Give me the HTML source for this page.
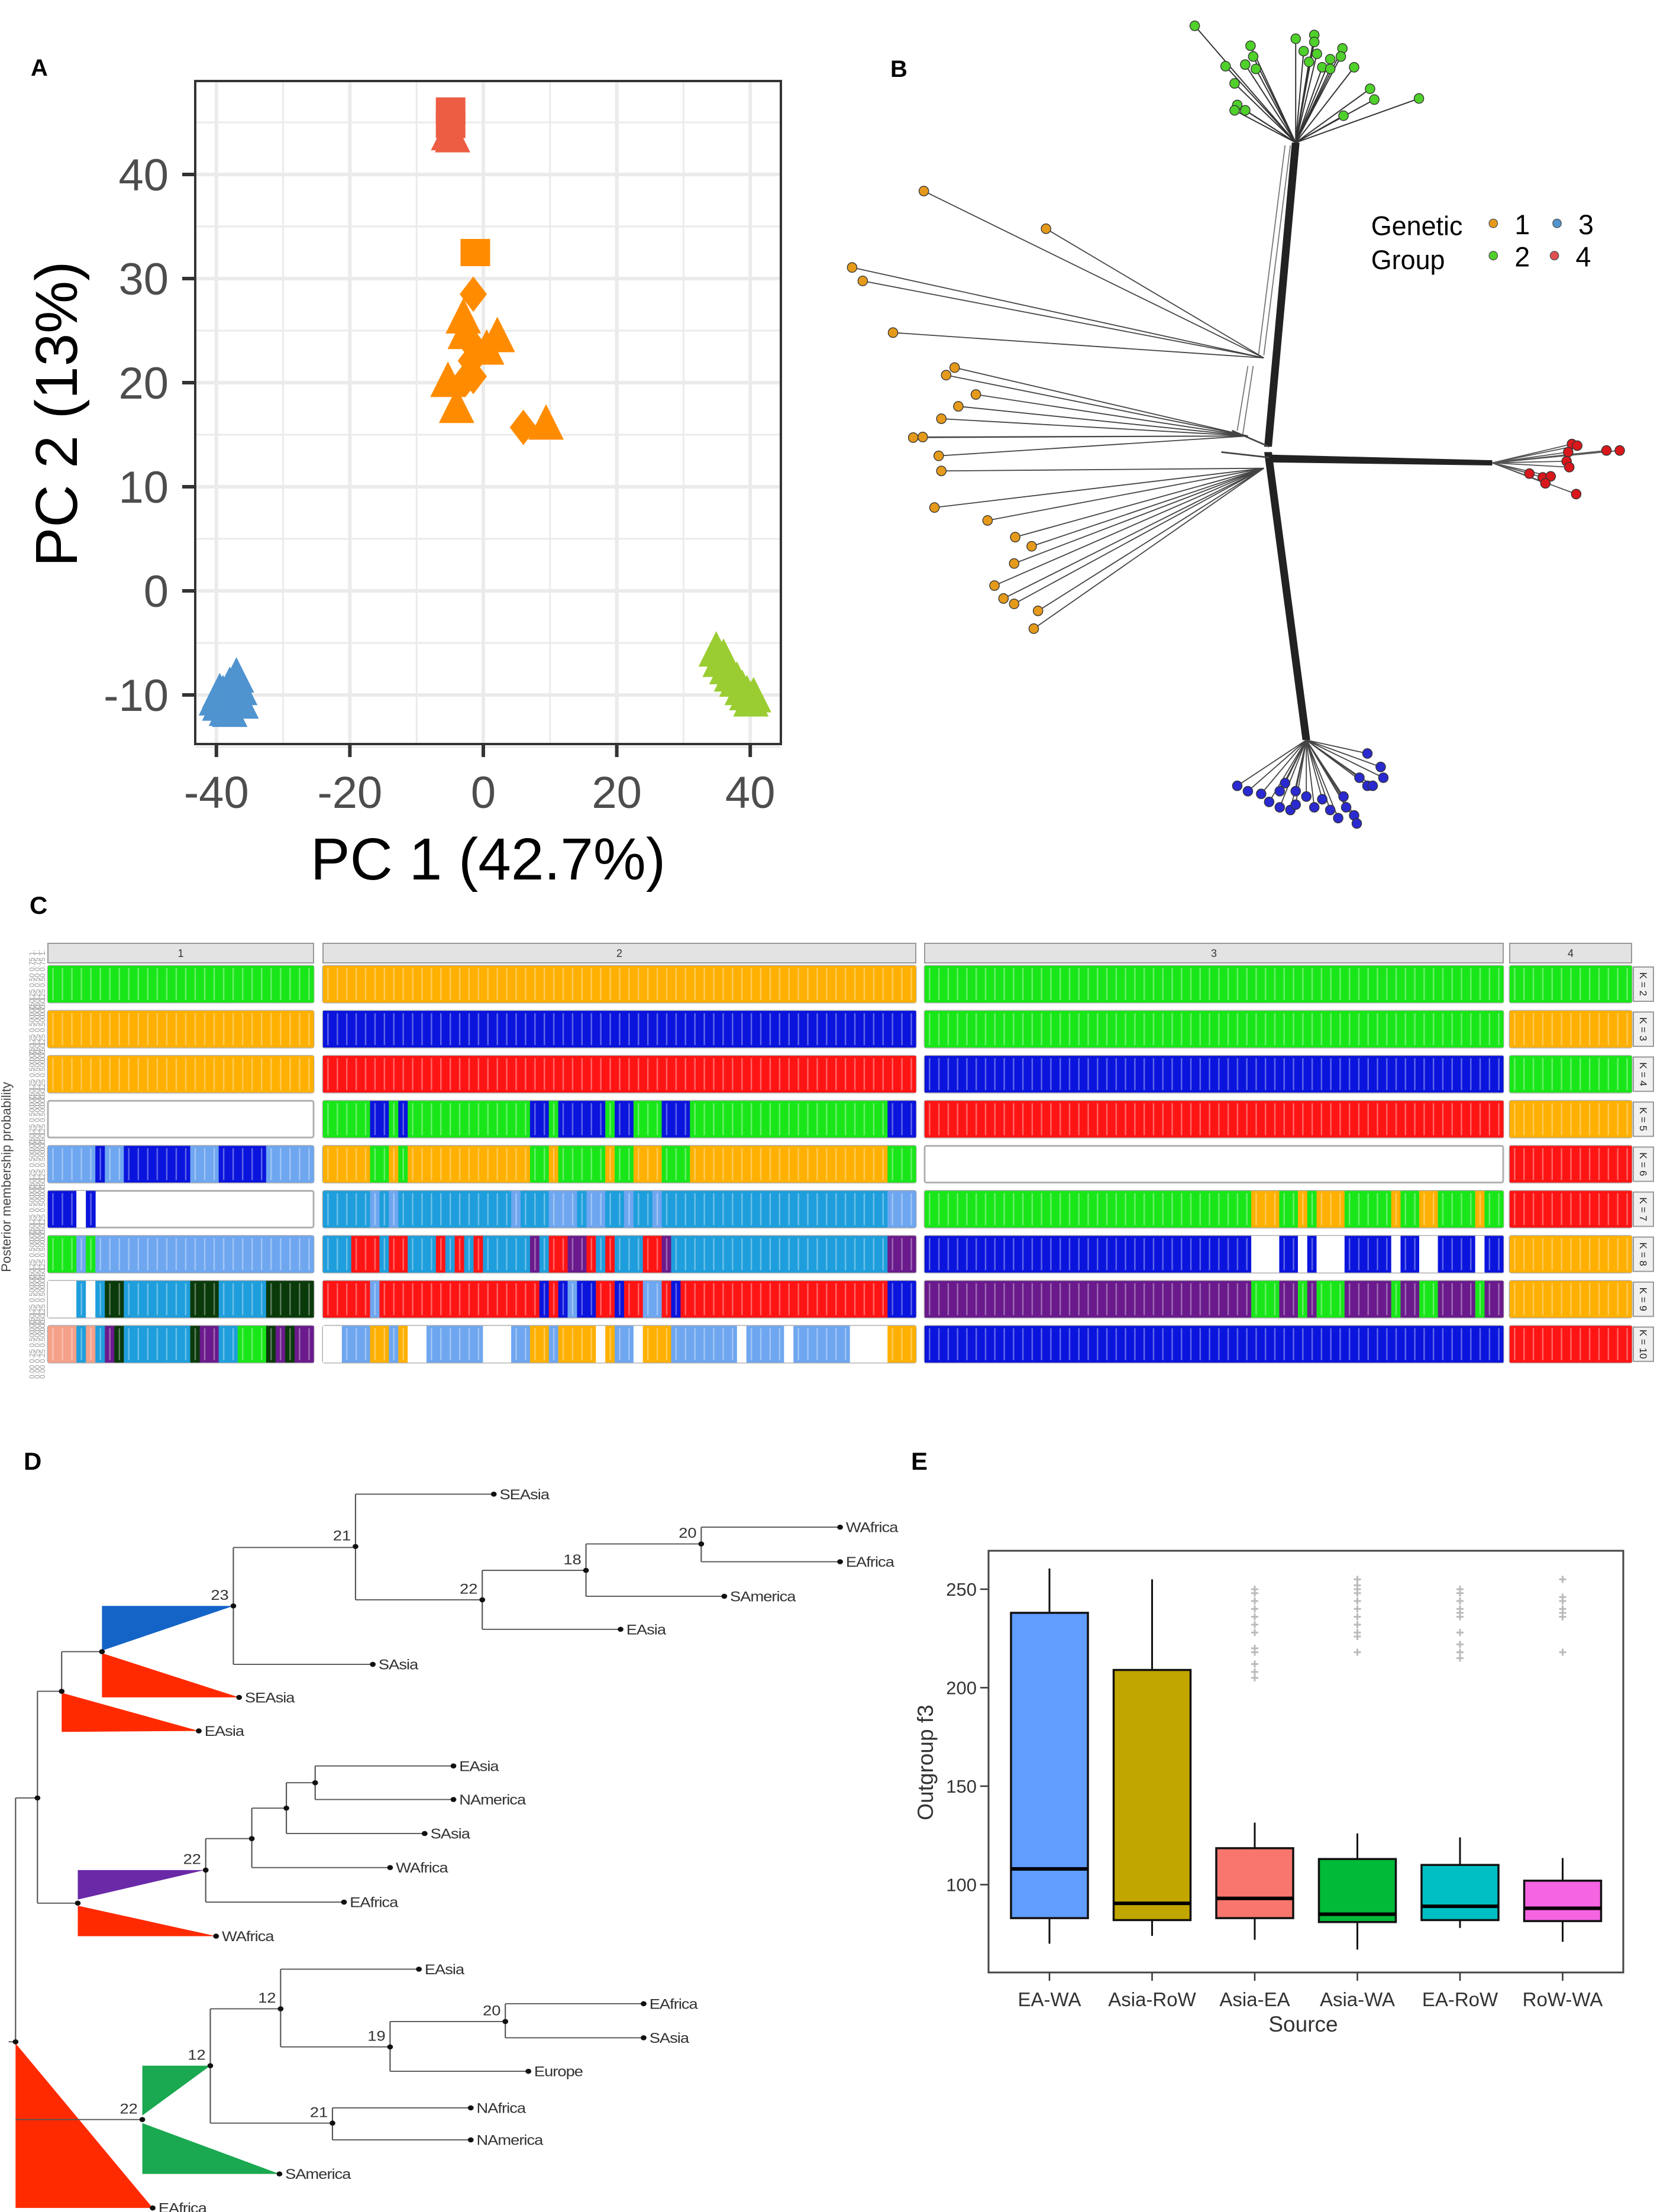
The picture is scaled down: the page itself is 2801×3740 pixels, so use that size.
<!DOCTYPE html>
<html><head><meta charset="utf-8"><style>
html,body{margin:0;padding:0;background:#fff;}
svg{display:block;font-family:"Liberation Sans",Arial,sans-serif;}
</style></head><body>
<svg id="fig" xmlns="http://www.w3.org/2000/svg" width="2801" height="3740" viewBox="0 0 2801 3740">
<rect width="2801" height="3740" fill="#fff"/>
<text x="52" y="128" font-size="40" font-weight="bold">A</text>
<text x="1505" y="130" font-size="40" font-weight="bold">B</text>
<text x="50" y="1545" font-size="42" font-weight="bold">C</text>
<text x="40" y="2485" font-size="42" font-weight="bold">D</text>
<text x="1540" y="2485" font-size="42" font-weight="bold">E</text>
<g id="pa"></g>
<g id="pb" transform="translate(1400,0) scale(0.898,0.910)"></g>
<g id="pc"></g>
<g id="pd" transform="translate(0,2400) scale(0.974,0.859)"></g>
<g id="pe"></g>
</svg>
<script>
// ---------- Panel A data ----------
const pcaRedX=[-4.9,-4.9,-4.6,-5.2];
const pcaRedY=[46.1,44.8,43.6,43.8];
const pcaRedShape=["s","s","t","t"];
const pcaOrangeX=[-1.2,-1.5,-3.0,2.1,-2.7,-1.5,-1.8,-1.5,-2.7,-5.3,-4.0,6.0,9.4,0.5];
const pcaOrangeY=[32.5,28.5,26.2,24.4,24.7,23.5,22.1,20.6,20.3,20.1,17.6,15.7,16.0,23.2];
const pcaOrangeShape=["s","d","t","t","t","d","d","d","d","t","t","d","t","t"];
const pcaBlueX=[-37.0,-38.0,-39.0,-39.5,-38.5,-36.5,-37.5,-39.5,-36.3,-38.0,-40.0];
const pcaBlueY=[-8.3,-9.2,-10.0,-11.0,-11.5,-9.5,-10.5,-9.8,-10.8,-11.6,-10.5];
const pcaGreenX=[34.9,35.5,36.5,37.2,38.0,38.8,39.5,40.1,40.5,36.0];
const pcaGreenY=[-5.8,-6.8,-7.5,-8.2,-8.7,-9.5,-10.0,-10.6,-10.2,-6.5];
const pcaXTicks=[-40,-20,0,20,40];
const pcaYTicks=[-10,0,10,20,30,40];
const NS="http://www.w3.org/2000/svg";
function mk(parent,tag,attrs,text){const e=document.createElementNS(NS,tag);for(const k in attrs)e.setAttribute(k,attrs[k]);if(text!==undefined)e.textContent=text;parent.appendChild(e);return e;}
(function(){
 const g=document.getElementById('pa');
 const X=v=>817+v*11.28, Y=v=>295+(40-v)*17.6;
 const L=330,R=1320,T=137,B=1258;
 for(let v=-30;v<=30;v+=20){const l=mk(g,'line',{x1:X(v),x2:X(v),y1:T,y2:B,stroke:'#ebebeb','stroke-width':3});}
 for(let v=-15;v<=45;v+=10){const l=mk(g,'line',{x1:L,x2:R,y1:Y(v),y2:Y(v),stroke:'#ebebeb','stroke-width':3});}
 pcaXTicks.forEach(v=>{const l=mk(g,'line',{x1:X(v),x2:X(v),y1:T,y2:B,stroke:'#ebebeb','stroke-width':6});
  const t=mk(g,'line',{x1:X(v),x2:X(v),y1:B,y2:B+22,stroke:'#333','stroke-width':6});
  const tx=mk(g,'text',{x:X(v),y:1366,'font-size':76,fill:'#4d4d4d','text-anchor':'middle'},String(v));});
 pcaYTicks.forEach(v=>{const l=mk(g,'line',{x1:L,x2:R,y1:Y(v),y2:Y(v),stroke:'#ebebeb','stroke-width':6});
  const t=mk(g,'line',{x1:L-22,x2:L,y1:Y(v),y2:Y(v),stroke:'#333','stroke-width':6});
  const tx=mk(g,'text',{x:285,y:Y(v)+27,'font-size':76,fill:'#4d4d4d','text-anchor':'end'},String(v));});
 function pt(x,y,s,c){const cx=X(x),cy=Y(y);let e;
  if(s==='s')e=mk(g,'rect',{x:cx-25,y:cy-23,width:50,height:46,fill:c});
  else if(s==='d')e=mk(g,'polygon',{points:`${cx},${cy-30} ${cx+23},${cy} ${cx},${cy+30} ${cx-23},${cy}`,fill:c});
  else e=mk(g,'polygon',{points:`${cx},${cy-34} ${cx+30},${cy+26} ${cx-30},${cy+26}`,fill:c});
  }
 pcaRedX.forEach((x,i)=>pt(x,pcaRedY[i],pcaRedShape[i],'#ec5d44'));
 pcaOrangeX.forEach((x,i)=>pt(x,pcaOrangeY[i],pcaOrangeShape[i],'#ff8c00'));
 pcaBlueX.forEach((x,i)=>pt(x,pcaBlueY[i],'t','#4f93cf'));
 pcaGreenX.forEach((x,i)=>pt(x,pcaGreenY[i],'t','#9acd32'));
 const bx=mk(g,'rect',{x:L,y:T,width:R-L,height:B-T,fill:'none',stroke:'#333','stroke-width':4});
 const xt=mk(g,'text',{x:825,y:1487,'font-size':100,'text-anchor':'middle'},'PC 1 (42.7%)');
 const yt=mk(g,'text',{x:0,y:0,'font-size':100,'text-anchor':'middle',transform:'translate(130,700) rotate(-90)'},'PC 2 (13%)');
})();

// ---------- Panel B (tree, zoom-space coordinates) ----------
const orangeLeaves=[[180,355],[410,425],[45,497],[65,522],[122,618],[238,683],[222,697],[278,733],[245,755],[213,778],[160,813],[178,812],[208,847],[213,875],[200,943],[300,967],[352,998],[383,1015],[350,1047],[313,1088],[330,1112],[350,1122],[395,1135],[387,1168]];
const greenLeaves=[[690,48],[795,85],[800,105],[785,120],[805,128],[748,123],[765,155],[770,195],[765,205],[785,205],[880,72],[915,65],[895,95],[920,100],[945,110],[968,90],[965,105],[930,125],[990,125],[1020,165],[1028,185],[970,215],[1112,183],[915,78],[905,115],[945,128]];
const redLeaves=[[1400,825],[1410,828],[1393,840],[1465,837],[1490,837],[1390,857],[1395,868],[1320,880],[1345,887],[1360,885],[1350,898],[1408,918]];
const blueLeaves=[[1015,1400],[1040,1425],[1045,1445],[1000,1445],[1015,1460],[1025,1460],[770,1460],[790,1470],[815,1475],[830,1490],[850,1470],[860,1455],[880,1470],[850,1500],[870,1505],[880,1495],[900,1480],[915,1500],[930,1485],[945,1505],[970,1480],[975,1500],[990,1515],[995,1530],[960,1520]];
(function(){
 const g=document.getElementById('pb');
 function ln(x1,y1,x2,y2,w,c){const l=mk(g,'line',{x1,y1,x2,y2,stroke:c||'#333','stroke-width':w||2});}
 for(let k=-6;k<=6;k+=2){ln(880+k,265,828+k,830,2.5,'#222');ln(835,852+k,1250,860+k*0.6,2.5,'#222');ln(828+k,840,900+k,1375,2.5,'#222');}
 ln(860,270,810,660,2,'#777');ln(870,270,820,660,2,'#777');ln(790,680,770,800,2,'#777');ln(800,680,780,810,2,'#777');
 ln(760,800,830,830,3,'#444');ln(740,840,830,850,3,'#444');
 orangeLeaves.forEach(p=>{const a=p[1]<640?[820,665]:(p[1]<860?[790,810]:[820,870]);ln(p[0],p[1],a[0],a[1],2,'#444');});
 greenLeaves.forEach(p=>ln(p[0],p[1],880,265,2.2,'#333'));
 redLeaves.forEach(p=>ln(p[0],p[1],1250,860,2,'#555'));
 blueLeaves.forEach(p=>ln(p[0],p[1],900,1375,2,'#444'));
 function dots(arr,c){arr.forEach(p=>{const d=mk(g,'circle',{cx:p[0],cy:p[1],r:9,fill:c,stroke:'#333','stroke-width':1.5});});}
 dots(orangeLeaves,'#e59a1c');dots(greenLeaves,'#4fd02a');dots(redLeaves,'#d8181c');dots(blueLeaves,'#2a2ad0');
 const lg=mk(g,'g',{});
 mk(lg,'text',{x:1022,y:437,'font-size':50},'Genetic');mk(lg,'text',{x:1022,y:500,'font-size':50},'Group');
 [[1252,415,'#e59a1c','1'],[1372,415,'#4f93cf','3'],[1252,475,'#4fd02a','2'],[1367,475,'#e05050','4']].forEach(e=>{
  const c=mk(lg,'circle',{cx:e[0],cy:e[1],r:8,fill:e[2],stroke:'#555','stroke-width':1.5});
  mk(lg,'text',{x:e[0]+40,y:e[1]+20,'font-size':52},e[3]);});
})();

// ---------- Panel C (structure barplot) ----------
const kValues=[2,3,4,5,6,7,8,9,10];
const colorMap={G:'#19e619',O:'#ffb000',B:'#0a14dc',R:'#ff1414',L:'#6ea6f0',C:'#1e9edc',P:'#6a1a8c',K:'#0a3a0a',W:'#ffffff',S:'#f5a088'};
const group1Runs=[[["G",28]],[["O",28]],[["O",28]],[["E",28]],[["L",5],["B",1],["L",2],["B",7],["L",3],["B",5],["L",5]],[["B",3],["W",1],["B",1],["E",23]],[["G",3],["L",1],["G",1],["L",23]],[["W",3],["C",1],["W",1],["C",1],["K",2],["C",7],["K",3],["C",5],["K",5]],[["S",3],["C",1],["S",1],["C",1],["P",1],["K",1],["C",7],["K",1],["P",2],["C",2],["G",3],["K",1],["P",1],["K",1],["P",2]]];
const group2Runs=[[["O",63]],[["B",63]],[["R",63]],[["G",5],["B",2],["G",1],["B",1],["G",13],["B",2],["G",1],["B",5],["G",1],["B",2],["G",3],["B",3],["G",21],["B",3]],[["O",5],["G",2],["O",1],["G",1],["O",13],["G",2],["O",1],["G",5],["O",1],["G",2],["O",3],["G",3],["O",21],["G",3]],[["C",5],["L",1],["C",1],["L",1],["C",12],["L",1],["C",3],["L",3],["C",1],["L",2],["C",2],["L",1],["C",2],["L",1],["C",24],["L",3]],[["C",3],["R",3],["C",1],["R",2],["C",3],["R",1],["C",1],["R",1],["C",1],["R",1],["C",5],["P",1],["C",1],["R",2],["P",2],["R",1],["C",1],["R",1],["C",1],["C",2],["R",2],["P",1],["C",23],["P",3]],[["R",5],["L",1],["R",17],["B",1],["R",1],["B",1],["L",1],["B",2],["R",2],["B",1],["R",2],["L",2],["R",1],["B",1],["R",1],["R",21],["B",3]],[["W",2],["L",3],["O",2],["L",1],["O",1],["W",2],["L",6],["W",3],["L",2],["O",2],["L",1],["O",4],["W",1],["O",1],["L",2],["W",1],["O",3],["L",2],["L",5],["W",1],["L",4],["W",1],["L",6],["W",4],["O",3]]];
const group3Runs=[[["G",62]],[["G",62]],[["B",62]],[["R",62]],[["E",62]],[["G",35],["O",3],["G",2],["O",1],["G",1],["O",3],["G",5],["O",1],["G",2],["O",2],["G",4],["O",1],["G",2]],[["B",35],["W",3],["B",2],["W",1],["B",1],["W",3],["B",5],["W",1],["B",2],["W",2],["B",4],["W",1],["B",2]],[["P",35],["G",3],["P",2],["G",1],["P",1],["G",3],["P",5],["G",1],["P",2],["G",2],["P",4],["G",1],["P",2]],[["B",62]]];
const group4Runs=[[["G",13]],[["O",13]],[["G",13]],[["O",13]],[["R",13]],[["R",13]],[["O",13]],[["O",13]],[["R",13]]];
const groupLabels=["1","2","3","4"];
(function(){
 const g=document.getElementById('pc');
 const cols=[{x0:81,x1:530,runs:group1Runs},{x0:546,x1:1548,runs:group2Runs},{x0:1563,x1:2541,runs:group3Runs},{x0:2552,x1:2758,runs:group4Runs}];
 const rowTop=i=>1633+i*76.1, rowH=62;
 cols.forEach((c,ci)=>{
  const st=mk(g,'rect',{x:c.x0,y:1595,width:c.x1-c.x0,height:33,fill:'#e3e3e3',stroke:'#999','stroke-width':2});
  mk(g,'text',{x:(c.x0+c.x1)/2,y:1618,'font-size':18,'text-anchor':'middle',fill:'#333'},groupLabels[ci]);
  c.runs.forEach((row,ri)=>{
   const n=row.reduce((a,r)=>a+r[1],0), w=(c.x1-c.x0)/n, y=rowTop(ri);
   const fr=mk(g,'rect',{x:c.x0,y:y,width:c.x1-c.x0,height:rowH,fill:'#fff',stroke:'#b0b0b0','stroke-width':3,rx:3});
   if(row[0][0]==='E'&&row.length===1){return;}
   let i=0;
   row.forEach(r=>{
    if(r[0]==='E'){i+=r[1];return;}
    for(let k=0;k<r[1];k++){const b=mk(g,'rect',{x:c.x0+i*w,y:y,width:w+0.5,height:rowH,fill:colorMap[r[0]]});
     if(r[0]!=='W'){mk(g,'rect',{x:c.x0+i*w+w*0.45,y:y+4,width:2.5,height:rowH-8,fill:'#fff',opacity:0.35});}
     i++;}
   });
  });
 });
 kValues.forEach((k,ri)=>{const y=rowTop(ri);const r=mk(g,'rect',{x:2761,y:y+2,width:34,height:rowH-4,fill:'#f0f0f0',stroke:'#999','stroke-width':2});
  mk(g,'text',{x:0,y:0,'font-size':17,'text-anchor':'middle',fill:'#222',transform:`translate(2772,${y+rowH/2}) rotate(90)`},'K = '+k);
  [0,1,2].forEach(j=>{mk(g,'text',{x:0,y:0,'font-size':12,fill:'#999','text-anchor':'middle',transform:`translate(${58+j*9},${y+rowH/2}) rotate(-90)`},'0.00 0.25 0.50 0.75 1.00'.slice(0,22));});
 });
 const yl=mk(g,'text',{x:0,y:0,'font-size':22,'text-anchor':'middle',fill:'#444',transform:'translate(18,1990) rotate(-90)'},'Posterior membership probability');
})();

// ---------- Panel D (tree, zoom-space coords) ----------
const dLines=[[15,1225,27,1225],[27,745,27,1225],[27,745,65,745],[65,535,65,952],[65,535,107,535],[107,457,107,535],[107,457,177,457],[405,252,405,482],[405,252,617,252],[405,482,647,482],[617,147,617,355],[617,147,857,147],[617,355,837,355],[837,297,837,413],[837,413,1077,413],[837,297,1017,297],[1017,245,1017,348],[1017,348,1257,348],[1017,245,1217,245],[1217,212,1217,280],[1217,212,1458,212],[1217,280,1458,280],[65,952,135,952],[357,825,357,950],[357,950,597,950],[357,825,437,825],[437,765,437,882],[437,882,677,882],[437,765,497,765],[497,715,497,815],[497,815,737,815],[497,715,547,715],[547,682,547,748],[547,682,787,682],[547,748,787,748],[27,1378,247,1378],[365,1160,365,1385],[365,1385,577,1385],[577,1355,577,1418],[577,1355,817,1355],[577,1418,817,1418],[365,1160,487,1160],[487,1082,487,1235],[487,1082,727,1082],[487,1235,677,1235],[677,1185,677,1283],[677,1283,917,1283],[677,1185,877,1185],[877,1150,877,1217],[877,1150,1117,1150],[877,1217,1117,1217]];
const dTriangles=[["#ff2a00","107,538 345,613 107,615"],["#1464c8","177,367 405,367 177,455"],["#ff2a00","177,460 415,547 177,547"],["#6a2aa8","135,887 355,887 135,945"],["#ff2a00","135,957 375,1017 135,1017"],["#ff2a00","27,1228 265,1552 27,1552"],["#1aa850","247,1272 365,1272 247,1370"],["#1aa850","247,1385 485,1485 247,1485"]];
const dLeaves=[[345,613,"EAsia"],[415,547,"SEAsia"],[647,482,"SAsia"],[857,147,"SEAsia"],[1077,413,"EAsia"],[1257,348,"SAmerica"],[1458,212,"WAfrica"],[1458,280,"EAfrica"],[597,950,"EAfrica"],[677,882,"WAfrica"],[737,815,"SAsia"],[787,682,"EAsia"],[787,748,"NAmerica"],[375,1017,"WAfrica"],[265,1552,"EAfrica"],[485,1485,"SAmerica"],[817,1355,"NAfrica"],[817,1418,"NAmerica"],[727,1082,"EAsia"],[917,1283,"Europe"],[1117,1150,"EAfrica"],[1117,1217,"SAsia"]];
const dNodes=[[405,367,"23"],[617,250,"21"],[837,355,"22"],[1017,297,"18"],[1217,245,"20"],[357,887,"22"],[247,1378,"22"],[365,1272,"12"],[487,1160,"12"],[677,1235,"19"],[877,1185,"20"],[577,1385,"21"],[65,745,""],[107,535,""],[177,457,""],[135,952,""],[437,825,""],[497,765,""],[547,715,""],[27,1225,""]];
(function(){
 const g=document.getElementById('pd');
 dTriangles.forEach(t=>{const p=mk(g,'polygon',{points:t[1],fill:t[0]});});
 dLines.forEach(l=>{const e=mk(g,'line',{x1:l[0],y1:l[1],x2:l[2],y2:l[3],stroke:'#555','stroke-width':2.2});});
 dLeaves.forEach(l=>{mk(g,'circle',{cx:l[0],cy:l[1],r:5,fill:'#111'});const t=mk(g,'text',{x:l[0]+10,y:l[1]+10,'font-size':28,fill:'#333','letter-spacing':'-1'},l[2]);});
 dNodes.forEach(n=>{mk(g,'circle',{cx:n[0],cy:n[1],r:5,fill:'#111'});if(n[2]){const t=mk(g,'text',{x:n[0]-8,y:n[1]-12,'font-size':28,fill:'#333','text-anchor':'end'},n[2]);}});
})();

// ---------- Panel E (boxplot) ----------
const boxCategories=["EA-WA","Asia-RoW","Asia-EA","Asia-WA","EA-RoW","RoW-WA"];
const boxWhiskerHigh=[260.5,255,131.5,126,124,113.5];
const boxQ3=[238,209,118.5,113,110,102];
const boxMedian=[108,90.5,93,85,89,88];
const boxQ1=[83,82,83,81,82,81.5];
const boxWhiskerLow=[70,74,72,67,78,71];
const boxColors=["#619cff","#c2a600","#f8766d","#00ba38","#00bfc4","#f564e3"];
const outliers=[[],[],[205,208,212,218,220,228,232,236,240,244,248,250],[218,226,228,232,236,240,244,248,250,252,255],[215,218,222,228,236,238,240,244,248,250],[218,236,238,240,244,246,255]];
const boxYTicks=[100,150,200,250];
(function(){
 const g=document.getElementById('pe');
 const Y=v=>2687+(250-v)*3.33;
 const X=i=>1774+i*173.5;
 const L=1671,R=2744,T=2622,B=3335;
 boxYTicks.forEach(v=>{const t=mk(g,'line',{x1:L-14,x2:L,y1:Y(v),y2:Y(v),stroke:'#333','stroke-width':2.5});
  const tx=mk(g,'text',{x:L-20,y:Y(v)+11,'font-size':31,fill:'#333','text-anchor':'end'},String(v));});
 boxCategories.forEach((c,i)=>{const x=X(i);
  outliers[i].forEach(v=>{mk(g,'line',{x1:x-6,x2:x+6,y1:Y(v),y2:Y(v),stroke:'#bbb','stroke-width':3});const o=mk(g,'line',{x1:x,x2:x,y1:Y(v)-6,y2:Y(v)+6,stroke:'#bbb','stroke-width':3});});
  const w=mk(g,'line',{x1:x,x2:x,y1:Y(boxWhiskerHigh[i]),y2:Y(boxWhiskerLow[i]),stroke:'#111','stroke-width':3});
  const b=mk(g,'rect',{x:x-65,y:Y(boxQ3[i]),width:130,height:Y(boxQ1[i])-Y(boxQ3[i]),fill:boxColors[i],stroke:'#111','stroke-width':3.5});
  const m=mk(g,'line',{x1:x-65,x2:x+65,y1:Y(boxMedian[i]),y2:Y(boxMedian[i]),stroke:'#000','stroke-width':6});
  const t=mk(g,'line',{x1:x,x2:x,y1:B,y2:B+14,stroke:'#333','stroke-width':2.5});
  const tx=mk(g,'text',{x:x,y:3392,'font-size':33,fill:'#333','text-anchor':'middle'},c);});
 const bx=mk(g,'rect',{x:L,y:T,width:R-L,height:B-T,fill:'none',stroke:'#444','stroke-width':3});
 const xt=mk(g,'text',{x:2203,y:3435,'font-size':37,fill:'#333','text-anchor':'middle'},'Source');
 const yt=mk(g,'text',{x:0,y:0,'font-size':37,fill:'#333','text-anchor':'middle',transform:'translate(1577,2980) rotate(-90)'},'Outgroup f3');
})();
</script>
</body></html>
